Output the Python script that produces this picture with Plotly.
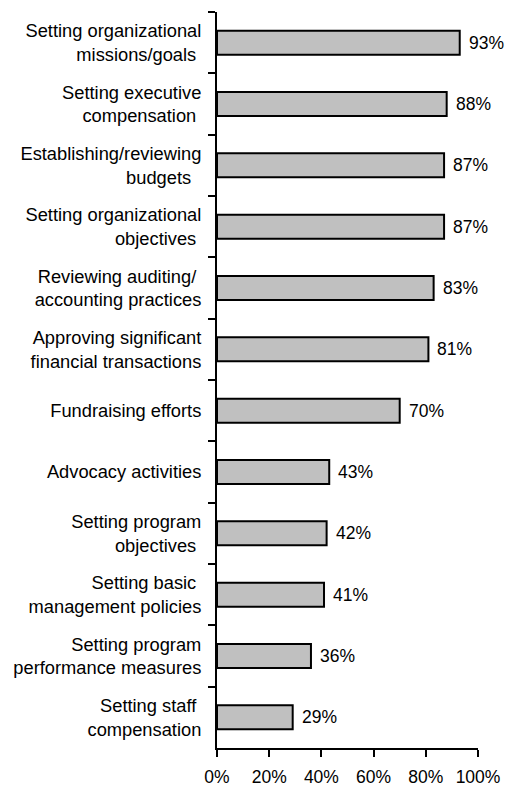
import plotly.graph_objects as go

NB = "\u00a0"
categories = [
    "Setting organizational<br>missions/goals" + NB,
    "Setting executive<br>compensation" + NB,
    "Establishing/reviewing<br>budgets" + NB + NB,
    "Setting organizational<br>objectives" + NB,
    "Reviewing auditing/" + NB + "<br>accounting practices",
    "Approving significant<br>financial transactions",
    "Fundraising efforts",
    "Advocacy activities",
    "Setting program<br>objectives" + NB,
    "Setting basic" + NB + "<br>management policies",
    "Setting program<br>performance measures",
    "Setting staff" + NB + "<br>compensation",
]
values = [93, 88, 87, 87, 83, 81, 70, 43, 42, 41, 36, 29]
value_labels = [f"{v}%" for v in values]
x_ticks = [0, 20, 40, 60, 80, 100]
x_tick_labels = [f"{t}%" for t in x_ticks]

FAM = "Liberation Sans, Arial, sans-serif"
FONT = dict(family=FAM, size=17.5, color="black")
YFONT = dict(family=FAM, size=18.3, color="black")

fig = go.Figure()
fig.add_trace(go.Bar(
    x=values, y=categories, orientation="h",
    marker=dict(color="#c0c0c0", line=dict(color="black", width=2)),
    width=0.39,
    hoverinfo="skip",
))
for c, v, t in zip(categories, values, value_labels):
    fig.add_annotation(x=v, y=c, text=t, showarrow=False, xanchor="left",
                       xshift=7, font=FONT)

fig.update_layout(
    width=507, height=787,
    margin=dict(l=217, r=29, t=12, b=39),
    paper_bgcolor="white", plot_bgcolor="white",
    font=FONT, showlegend=False,
    xaxis=dict(range=[0, 100], tickvals=x_ticks, ticktext=x_tick_labels,
               showline=True, linecolor="black", linewidth=2,
               ticks="outside", ticklen=7, tickwidth=2, tickcolor="black",
               ticklabelstandoff=5, tickfont=FONT, automargin=False,
               showgrid=False, zeroline=False, fixedrange=True),
    yaxis=dict(autorange="reversed", type="category", tickson="boundaries",
               showline=True, linecolor="black", linewidth=2,
               ticks="outside", ticklen=7, tickwidth=2, tickcolor="black",
               ticklabelstandoff=10, tickfont=YFONT, automargin=False,
               showgrid=False, zeroline=False, fixedrange=True),
)
fig.write_html("out.html", config={"displayModeBar": False},
               post_script="document.body.style.margin='0';document.body.style.overflow='hidden';")
